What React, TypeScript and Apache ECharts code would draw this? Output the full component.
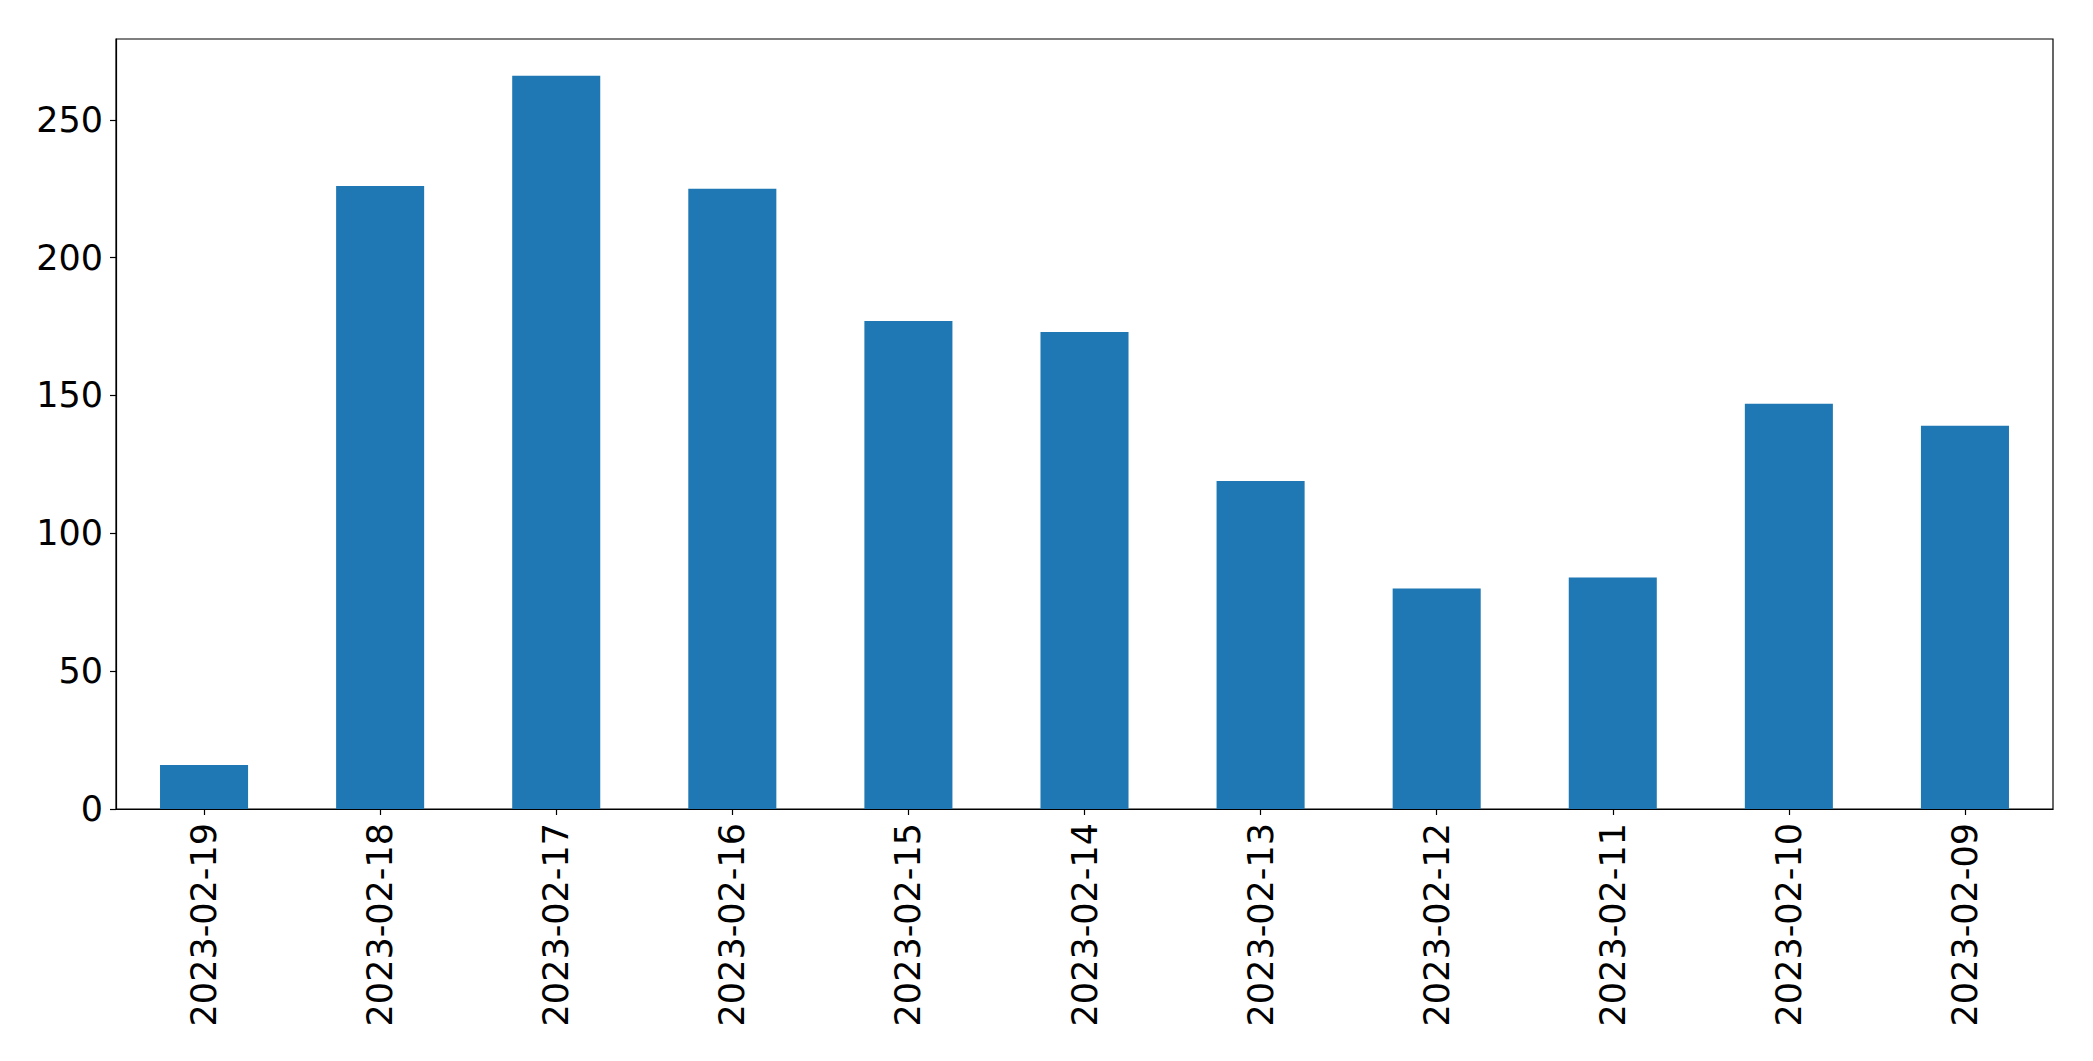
import React, { useEffect, useRef } from "react";
import * as echarts from "echarts";

const categories = [
  "2023-02-19",
  "2023-02-18",
  "2023-02-17",
  "2023-02-16",
  "2023-02-15",
  "2023-02-14",
  "2023-02-13",
  "2023-02-12",
  "2023-02-11",
  "2023-02-10",
  "2023-02-09",
];
const values = [16, 226, 266, 225, 177, 173, 119, 80, 84, 147, 139];
const yTicks = [0, 50, 100, 150, 200, 250];
const yMax = 279.3;

export default function App() {
  const ref = useRef<HTMLDivElement>(null);
  useEffect(() => {
    if (!ref.current) return;
    const chart = echarts.init(ref.current, undefined, { renderer: "svg" });
    const font = "DejaVu Sans";
    chart.setOption({
      animation: false,
      backgroundColor: "#ffffff",
      grid: {
        left: 116,
        right: 40,
        top: 39,
        bottom: 252,
        show: true,
        borderColor: "#000000",
        borderWidth: 1.2,
        containLabel: false,
      },
      xAxis: {
        type: "category",
        data: categories,
        axisLine: { show: true, lineStyle: { color: "#000000", width: 1.2 } },
        axisTick: {
          show: true,
          alignWithLabel: true,
          length: 6,
          lineStyle: { color: "#000000", width: 1.2 },
        },
        axisLabel: {
          rotate: 90,
          margin: 14,
          color: "#000000",
          fontSize: 35,
          fontFamily: font,
          interval: 0,
        },
        splitLine: { show: false },
      },
      yAxis: {
        type: "value",
        min: 0,
        max: yMax,
        interval: 50,
        axisLine: { show: true, lineStyle: { color: "#000000", width: 1.2 } },
        axisTick: {
          show: true,
          length: 6,
          customValues: yTicks,
          lineStyle: { color: "#000000", width: 1.2 },
        },
        axisLabel: {
          margin: 13,
          color: "#000000",
          fontSize: 35,
          fontFamily: font,
          customValues: yTicks,
        },
        splitLine: { show: false },
      },
      series: [
        {
          type: "bar",
          data: values,
          barWidth: "50%",
          itemStyle: { color: "#1f77b4" },
        },
      ],
    });
    return () => chart.dispose();
  }, []);
  return (
    <div
      ref={ref}
      style={{ position: "fixed", left: 0, top: 0, width: 2093, height: 1061 }}
    />
  );
}
